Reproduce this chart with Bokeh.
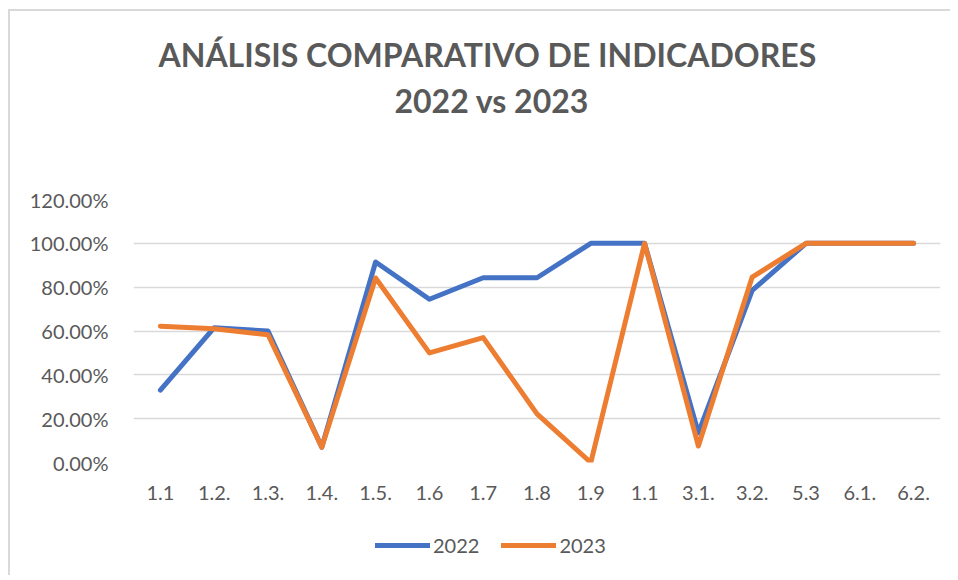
from bokeh.plotting import figure
from bokeh.layouts import column
from bokeh.models import Title, Legend, LegendItem, FixedTicker, NumeralTickFormatter, Range1d
from bokeh.embed import file_html
from bokeh.resources import INLINE

categories = ["1.1", "1.2.", "1.3.", "1.4.", "1.5.", "1.6", "1.7", "1.8", "1.9", "1.1", "3.1.", "3.2.", "5.3", "6.1.", "6.2."]
values_2022 = [0.33, 0.615, 0.60, 0.07, 0.915, 0.745, 0.843, 0.843, 1.00, 1.00, 0.135, 0.785, 1.00, 1.00, 1.00]
values_2023 = [0.622, 0.61, 0.583, 0.07, 0.842, 0.50, 0.57, 0.222, 0.00, 1.00, 0.075, 0.846, 1.00, 1.00, 1.00]
y_ticks = [0, 0.2, 0.4, 0.6, 0.8, 1.0, 1.2]
series_names = ["2022", "2023"]

xs = list(range(len(categories)))
FONT = "Lato"
GRAY = "#595959"
C22, C23 = "#4472C4", "#ED7D31"

p = figure(width=940, height=509, output_backend="svg", toolbar_location=None,
           x_range=Range1d(-0.5, len(categories) - 0.5), y_range=Range1d(0, 1.2),
           min_border_left=123, min_border_right=10, min_border_top=188, min_border_bottom=58)
p.outline_line_color = None

p.add_layout(Title(text=" ", standoff=36, text_font=FONT, text_font_size="32px"), "above")
p.add_layout(Title(text="2022 vs 2023", align="left", offset=261, standoff=5, text_font=FONT,
                   text_font_size="32px", text_font_style="bold", text_color=GRAY), "above")
p.add_layout(Title(text="ANÁLISIS COMPARATIVO DE INDICADORES", align="left", offset=25, standoff=5,
                   text_font=FONT, text_font_size="32px", text_font_style="bold", text_color=GRAY), "above")

p.line(xs, values_2022, line_color=C22, line_width=5, line_join="round", line_cap="round")
p.line(xs, values_2023, line_color=C23, line_width=5, line_join="round", line_cap="round")

p.xaxis.ticker = FixedTicker(ticks=xs)
p.xaxis.major_label_overrides = {i: c for i, c in enumerate(categories)}
p.yaxis.ticker = FixedTicker(ticks=y_ticks)
p.yaxis.formatter = NumeralTickFormatter(format="0.00%")
for ax in (p.xaxis[0], p.yaxis[0]):
    ax.axis_line_color = None
    ax.major_tick_line_color = None
    ax.minor_tick_line_color = None
    ax.major_label_text_font = FONT
    ax.major_label_text_font_size = "20px"
    ax.major_label_text_color = GRAY
p.xaxis.major_label_standoff = 17
p.yaxis.major_label_standoff = 19

p.xgrid.grid_line_color = None
p.ygrid.grid_line_color = "#D9D9D9"
p.ygrid.grid_line_width = 1.5

# legend strip (series drawn outside its visible range; only the legend shows)
lf = figure(width=940, height=55, output_backend="svg", toolbar_location=None,
            x_axis_type=None, y_axis_type=None, x_range=Range1d(0, 1), y_range=Range1d(10, 11),
            min_border=0)
lf.outline_line_color = None
lf.grid.visible = False
l22 = lf.line(xs, values_2022, line_color=C22, line_width=5, line_cap="round")
l23 = lf.line(xs, values_2023, line_color=C23, line_width=5, line_cap="round")
legend = Legend(items=[LegendItem(label=series_names[0], renderers=[l22]),
                       LegendItem(label=series_names[1], renderers=[l23])],
                orientation="horizontal", location=(242, 18), border_line_color=None,
                background_fill_alpha=0,
                label_text_font=FONT, label_text_font_size="20px", label_text_color=GRAY,
                glyph_width=55, spacing=22, label_standoff=3, margin=0, padding=0)
lf.add_layout(legend)

layout = column(p, lf, spacing=0, margin=(9, 0, 0, 8),
                styles={"border-top": "2px solid #D9D9D9", "border-left": "2px solid #D9D9D9"})

open("out.html", "w").write(file_html(layout, INLINE))
